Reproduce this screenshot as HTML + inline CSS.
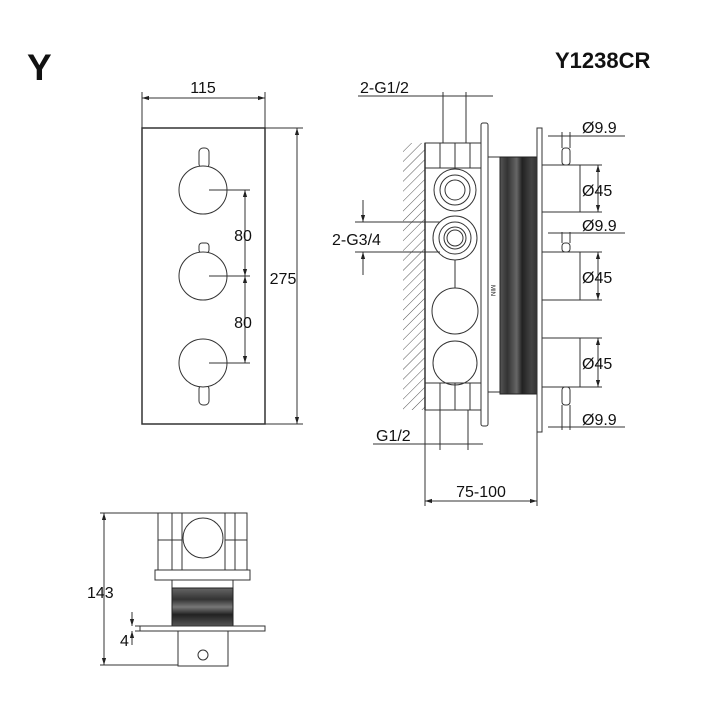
<!DOCTYPE html>
<html><head><meta charset="utf-8"><style>
html,body{margin:0;padding:0;background:#fff;}
svg{display:block;font-family:"Liberation Sans",Arial,sans-serif;}
</style></head><body>
<svg width="705" height="705" viewBox="0 0 705 705" xmlns="http://www.w3.org/2000/svg">
<defs>
<marker id="a" viewBox="0 0 10 10" refX="10" refY="5" markerWidth="7" markerHeight="7" orient="auto-start-reverse"><path d="M0,2 L10,5 L0,8 z" fill="#222"/></marker>
<linearGradient id="g" x1="0" x2="1" y1="0" y2="0">
<stop offset="0" stop-color="#555"/><stop offset="0.2" stop-color="#333"/><stop offset="0.45" stop-color="#666"/><stop offset="0.6" stop-color="#222"/><stop offset="0.85" stop-color="#444"/><stop offset="1" stop-color="#333"/></linearGradient>
<linearGradient id="g2" x1="0" x2="0" y1="0" y2="1">
<stop offset="0" stop-color="#666"/><stop offset="0.3" stop-color="#333"/><stop offset="0.5" stop-color="#777"/><stop offset="0.7" stop-color="#222"/><stop offset="1" stop-color="#555"/></linearGradient>
<pattern id="h" width="7" height="7" patternUnits="userSpaceOnUse" patternTransform="rotate(45)"><line x1="0" y1="0" x2="0" y2="7" stroke="#555" stroke-width="1"/></pattern>
</defs>
<g fill="#111" font-weight="bold">
<text x="27" y="80" font-size="37">Y</text>
<text x="555" y="68" font-size="22">Y1238CR</text>
</g>
<g stroke="#333" stroke-width="1" fill="none">
<rect x="142" y="128" width="123" height="296" stroke-width="1.5"/>
<line x1="142" y1="92" x2="142" y2="128"/><line x1="265" y1="92" x2="265" y2="128"/>
<line x1="142" y1="98" x2="265" y2="98" marker-start="url(#a)" marker-end="url(#a)"/>
<line x1="265" y1="128" x2="303" y2="128"/><line x1="265" y1="424" x2="303" y2="424"/>
<line x1="297" y1="128" x2="297" y2="424" marker-start="url(#a)" marker-end="url(#a)"/>
<rect x="199" y="148" width="10" height="20" rx="4"/>
<rect x="199" y="243" width="10" height="10" rx="3"/>
<rect x="199" y="385" width="10" height="20" rx="4"/>
<circle cx="203" cy="190" r="24" fill="#fff"/><circle cx="203" cy="276" r="24" fill="#fff"/><circle cx="203" cy="363" r="24" fill="#fff"/>
<line x1="209" y1="190" x2="250" y2="190"/><line x1="209" y1="276" x2="250" y2="276"/><line x1="209" y1="363" x2="250" y2="363"/>
<line x1="245" y1="190" x2="245" y2="276" marker-start="url(#a)" marker-end="url(#a)"/>
<line x1="245" y1="276" x2="245" y2="363" marker-start="url(#a)" marker-end="url(#a)"/>

<rect x="403" y="143" width="22" height="267" fill="url(#h)" stroke="none"/>
<line x1="425" y1="143" x2="425" y2="410" stroke-width="1.5"/>
<rect x="425" y="143" width="58" height="267"/>
<line x1="425" y1="168" x2="483" y2="168"/><line x1="425" y1="383" x2="483" y2="383"/>
<line x1="440" y1="143" x2="440" y2="168"/><line x1="455" y1="143" x2="455" y2="168"/><line x1="470" y1="143" x2="470" y2="168"/>
<line x1="440" y1="383" x2="440" y2="410"/><line x1="455" y1="383" x2="455" y2="410"/><line x1="470" y1="383" x2="470" y2="410"/>
<rect x="481" y="123" width="7" height="303" rx="2" fill="#fff"/>
<circle cx="455" cy="190" r="21"/><circle cx="455" cy="190" r="15"/><circle cx="455" cy="190" r="10"/>
<circle cx="455" cy="238" r="22"/><circle cx="455" cy="238" r="16"/><circle cx="455" cy="238" r="11"/><circle cx="455" cy="238" r="8"/>
<circle cx="455" cy="311" r="23"/><circle cx="455" cy="363" r="22"/>
<line x1="455" y1="260" x2="455" y2="288"/>
<line x1="488" y1="157" x2="500" y2="157"/><line x1="488" y1="392" x2="500" y2="392"/>
<rect x="500" y="157" width="37" height="237" fill="url(#g)" stroke="#222"/>
<rect x="537" y="128" width="5" height="304" fill="#fff"/>
<rect x="542" y="165" width="38" height="47"/><rect x="542" y="252" width="38" height="48"/><rect x="542" y="338" width="38" height="49"/>
<rect x="562" y="148" width="8" height="17" rx="3"/><rect x="562" y="243" width="8" height="9" rx="3"/><rect x="562" y="387" width="8" height="18" rx="3"/>
<line x1="580" y1="165" x2="602" y2="165"/><line x1="580" y1="212" x2="602" y2="212"/>
<line x1="598" y1="165" x2="598" y2="212" marker-start="url(#a)" marker-end="url(#a)"/>
<line x1="580" y1="252" x2="602" y2="252"/><line x1="580" y1="300" x2="602" y2="300"/>
<line x1="598" y1="252" x2="598" y2="300" marker-start="url(#a)" marker-end="url(#a)"/>
<line x1="580" y1="338" x2="602" y2="338"/><line x1="580" y1="387" x2="602" y2="387"/>
<line x1="598" y1="338" x2="598" y2="387" marker-start="url(#a)" marker-end="url(#a)"/>
<line x1="562" y1="132" x2="562" y2="148"/><line x1="570" y1="132" x2="570" y2="148"/>
<line x1="548" y1="136" x2="625" y2="136"/>
<line x1="562" y1="232" x2="562" y2="243"/><line x1="570" y1="232" x2="570" y2="243"/>
<line x1="548" y1="233" x2="625" y2="233"/>
<line x1="562" y1="405" x2="562" y2="430"/><line x1="570" y1="405" x2="570" y2="430"/>
<line x1="548" y1="427" x2="625" y2="427"/>
<line x1="443" y1="92" x2="443" y2="143"/><line x1="466" y1="92" x2="466" y2="143"/>
<line x1="358" y1="96" x2="493" y2="96"/>
<line x1="355" y1="222" x2="440" y2="222"/><line x1="355" y1="252" x2="440" y2="252"/>
<line x1="363" y1="200" x2="363" y2="222" marker-end="url(#a)"/>
<line x1="363" y1="275" x2="363" y2="252" marker-end="url(#a)"/>
<line x1="440" y1="410" x2="440" y2="450"/><line x1="468" y1="410" x2="468" y2="450"/>
<line x1="373" y1="444" x2="483" y2="444"/>
<line x1="425" y1="410" x2="425" y2="506"/><line x1="537" y1="432" x2="537" y2="506"/>
<line x1="425" y1="501" x2="537" y2="501" marker-start="url(#a)" marker-end="url(#a)"/>

<line x1="100" y1="513" x2="162" y2="513"/><line x1="100" y1="665" x2="185" y2="665"/>
<line x1="104" y1="513" x2="104" y2="665" marker-start="url(#a)" marker-end="url(#a)"/>
<rect x="158" y="513" width="89" height="57"/>
<rect x="155" y="570" width="95" height="10"/>
<line x1="172" y1="513" x2="172" y2="570"/><line x1="182" y1="513" x2="182" y2="570"/>
<line x1="225" y1="513" x2="225" y2="570"/><line x1="235" y1="513" x2="235" y2="570"/>
<line x1="158" y1="540" x2="182" y2="540"/><line x1="225" y1="540" x2="247" y2="540"/>
<circle cx="203" cy="538" r="20" fill="#fff"/>
<line x1="172" y1="580" x2="172" y2="588"/><line x1="233" y1="580" x2="233" y2="588"/>
<rect x="172" y="588" width="61" height="38" fill="url(#g2)" stroke="#222"/>
<rect x="140" y="626" width="125" height="5" fill="#fff"/>
<rect x="178" y="631" width="50" height="35" fill="#fff"/>
<circle cx="203" cy="655" r="5"/>
<line x1="135" y1="626" x2="140" y2="626"/><line x1="135" y1="631" x2="140" y2="631"/>
<line x1="132" y1="612" x2="132" y2="626" marker-end="url(#a)"/>
<line x1="132" y1="645" x2="132" y2="631" marker-end="url(#a)"/>
</g>
<g fill="#111" font-size="16">
<text x="203" y="93" text-anchor="middle">115</text>
<text x="283" y="284" text-anchor="middle">275</text>
<text x="243" y="241" text-anchor="middle">80</text>
<text x="243" y="328" text-anchor="middle">80</text>
<text x="360" y="93">2-G1/2</text>
<text x="332" y="245">2-G3/4</text>
<text x="376" y="441">G1/2</text>
<text x="481" y="497" text-anchor="middle">75-100</text>
<text x="582" y="133">Ø9.9</text>
<text x="582" y="196">Ø45</text>
<text x="582" y="231">Ø9.9</text>
<text x="582" y="283">Ø45</text>
<text x="582" y="369">Ø45</text>
<text x="582" y="425">Ø9.9</text>
<text x="87" y="598">143</text>
<text x="120" y="646">4</text>
<text x="0" y="0" font-size="6" transform="translate(491,285) rotate(90)">MIN</text>
</g>
</svg>
</body></html>
